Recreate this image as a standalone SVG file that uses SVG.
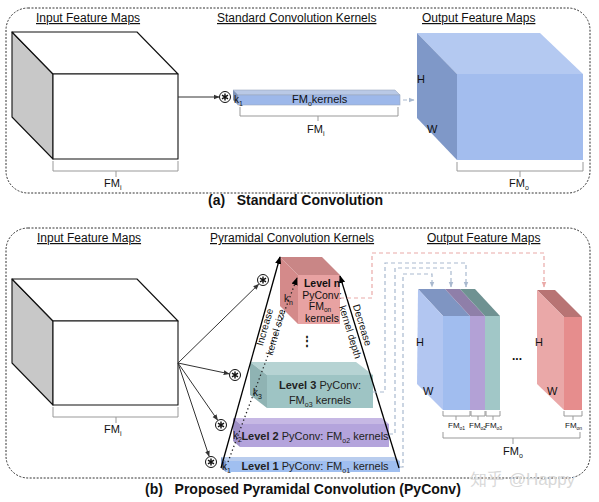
<svg xmlns="http://www.w3.org/2000/svg" width="599" height="502" viewBox="0 0 599 502">
<style>
text{font-family:"Liberation Sans",Arial,sans-serif;fill:#111}
.lbl{font-size:12px;text-decoration:underline}
.ttl{font-size:14px;font-weight:bold}
.lv{font-size:11px;fill:#222}
.sub{font-size:7px}
.edge{stroke:#111;stroke-width:1.1;stroke-linejoin:round}
.br{fill:none;stroke:#999;stroke-width:1}
.panel{fill:none;stroke:#333;stroke-width:1;stroke-dasharray:2 1.5}
.ar{stroke:#333;stroke-width:1;fill:none}
.tri{stroke:#000;stroke-width:1.3;fill:none}
.dl{fill:none;stroke:#a9b9cf;stroke-width:1.2;stroke-dasharray:4 3}
.dp{fill:none;stroke:#eaaaa8;stroke-width:1.2;stroke-dasharray:4 3}
</style>
<defs>
<marker id="ah" viewBox="0 0 10 10" refX="9" refY="5" markerWidth="6" markerHeight="6" orient="auto"><path d="M0,1 L10,5 L0,9 z" fill="#333"/></marker>
<marker id="ab" viewBox="0 0 10 10" refX="9" refY="5" markerWidth="6" markerHeight="6" orient="auto"><path d="M0,1 L10,5 L0,9 z" fill="#000"/></marker>
<marker id="al" viewBox="0 0 10 10" refX="9" refY="5" markerWidth="5" markerHeight="5" orient="auto"><path d="M0,1 L10,5 L0,9 z" fill="#a9b9cf"/></marker>
<marker id="ap" viewBox="0 0 10 10" refX="9" refY="5" markerWidth="5" markerHeight="5" orient="auto"><path d="M0,1 L10,5 L0,9 z" fill="#eaaaa8"/></marker>
<g id="conv">
<circle r="5.5" fill="#fff" stroke="#111" stroke-width="1"/>
<path d="M0,-3.5V3.5M-3,-1.8L3,1.8M-3,1.8L3,-1.8" stroke="#111" stroke-width="1.4"/>
</g>
</defs>

<!-- Panel (a) -->
<rect class="panel" x="6" y="8" width="584" height="185" rx="22"/>
<text class="lbl" x="36" y="22">Input Feature Maps</text>
<text class="lbl" x="217" y="22">Standard Convolution Kernels</text>
<text class="lbl" x="422" y="22">Output Feature Maps</text>
<text class="ttl" x="208" y="205" xml:space="preserve">(a)   Standard Convolution</text>

<g id="a-input">
<polygon points="12,32 53,74 53,159 12,117" fill="#c8c8c8" class="edge"/>
<polygon points="12,32 137,32 178,74 53,74" fill="#fff" class="edge"/>
<rect x="53" y="74" width="125" height="85" fill="#fff" class="edge"/>
<path class="br" d="M53,161V171H178V161M116,171V177"/>
<text x="104" y="187" font-size="11">FM<tspan class="sub" dy="3">i</tspan></text>
</g>

<g id="a-kernel">
<polygon points="233,90 395,90 400,95 238,95" fill="#b9c9e6" stroke="#9aa8c0" stroke-width="0.6"/>
<polygon points="233,90 238,95 238,105 233,100" fill="#7e93b8"/>
<rect x="238" y="95" width="162" height="10" fill="#9db8ea" stroke="#9aa8c0" stroke-width="0.6"/>
<text x="234" y="103" font-size="10">k<tspan class="sub" dy="3">1</tspan></text>
<text x="292" y="103" font-size="11">FM<tspan class="sub" dy="3">o</tspan><tspan dy="-3">kernels</tspan></text>
<path class="br" d="M240,107V116H398V107M318,116V121"/>
<text x="307" y="133" font-size="11">FM<tspan class="sub" dy="3">i</tspan></text>
</g>

<g id="a-output">
<polygon points="417,33 540,33 583,74 457,74" fill="#b4c9f1"/>
<polygon points="417,33 457,74 457,160 417,118" fill="#7f98c8"/>
<rect x="457" y="74" width="126" height="86" fill="#a3bdee"/>
<text x="417" y="83" font-size="11">H</text>
<text x="427" y="133" font-size="11">W</text>
<path class="br" d="M457,162V171H583V162M520,171V177"/>
<text x="509" y="187" font-size="11">FM<tspan class="sub" dy="3">o</tspan></text>
</g>

<g id="a-connectors">
<line class="ar" x1="178" y1="97" x2="219" y2="97" marker-end="url(#ah)"/>
<use href="#conv" x="225" y="97"/>
<line class="dl" x1="403" y1="100" x2="414" y2="100" marker-end="url(#al)" stroke-dasharray="3 2"/>
</g>

<!-- Panel (b) -->
<rect class="panel" x="6" y="228" width="584" height="250" rx="22"/>
<text class="lbl" x="37" y="242">Input Feature Maps</text>
<text class="lbl" x="210" y="242">Pyramidal Convolution Kernels</text>
<text class="lbl" x="427" y="242">Output Feature Maps</text>
<text class="ttl" x="145" y="494" xml:space="preserve">(b)   Proposed Pyramidal Convolution (PyConv)</text>

<g id="b-input">
<polygon points="12,279 53,321 53,405 12,363" fill="#c8c8c8" class="edge"/>
<polygon points="12,279 137,279 178,321 53,321" fill="#fff" class="edge"/>
<rect x="53" y="321" width="125" height="84" fill="#fff" class="edge"/>
<path class="br" d="M53,407V417H178V407M116,417V423"/>
<text x="104" y="433" font-size="11">FM<tspan class="sub" dy="3">i</tspan></text>
</g>

<g id="level-n">
<polygon points="280,257 322,257 340,275 298,275" fill="#c98686"/>
<polygon points="280,257 298,275 298,324 280,306" fill="#d48a8a"/>
<rect x="298" y="275" width="42" height="49" fill="#e8a2a2"/>
<text x="284" y="302" font-size="10">k<tspan class="sub" dy="3">n</tspan></text>
<text x="322" y="287" font-size="10.5" text-anchor="middle" font-weight="bold" fill="#222">Level n</text>
<text x="322" y="299" font-size="10.5" text-anchor="middle" fill="#222">PyConv:</text>
<text x="320" y="310" font-size="10.5" text-anchor="middle" fill="#222">FM<tspan font-size="6.5" dy="2">on</tspan></text>
<text x="322" y="322" font-size="10.5" text-anchor="middle" fill="#222">kernels</text>
</g>

<text x="307" y="345" font-size="12" font-weight="bold" text-anchor="middle">⋮</text>

<g id="level-3">
<polygon points="250,362 356,362 373,375 267,375" fill="#b6d3d3"/>
<polygon points="250,362 267,375 267,408 250,395" fill="#8fb3b3"/>
<rect x="267" y="375" width="106" height="33" fill="#9ec4c4"/>
<text x="253" y="396" font-size="10">k<tspan class="sub" dy="3">3</tspan></text>
<text class="lv" x="320" y="389" text-anchor="middle"><tspan font-weight="bold">Level 3</tspan> PyConv:</text>
<text class="lv" x="320" y="404" text-anchor="middle">FM<tspan class="sub" dy="3">o3</tspan><tspan dy="-3"> kernels</tspan></text>
</g>

<g id="level-2">
<polygon points="233,418 382,418 389,424 240,424" fill="#c6b8e4"/>
<polygon points="233,418 240,424 240,447 233,441" fill="#9f90c7"/>
<rect x="240" y="424" width="149" height="23" fill="#b4a4dc"/>
<text x="233" y="439" font-size="10">k<tspan class="sub" dy="3">2</tspan></text>
<text class="lv" x="315" y="440" text-anchor="middle"><tspan font-weight="bold">Level 2</tspan> PyConv: FM<tspan class="sub" dy="3">o2</tspan><tspan dy="-3"> kernels</tspan></text>
</g>

<g id="level-1">
<polygon points="221,457 395,457 400,461 226,461" fill="#b9cdee"/>
<polygon points="221,457 226,461 226,472 221,468" fill="#809ac6"/>
<rect x="226" y="461" width="174" height="11" fill="#a0bff0"/>
<text x="222" y="470" font-size="10">k<tspan class="sub" dy="3">1</tspan></text>
<text class="lv" x="315" y="470" text-anchor="middle"><tspan font-weight="bold">Level 1</tspan> PyConv: FM<tspan class="sub" dy="3">o1</tspan><tspan dy="-3"> kernels</tspan></text>
</g>

<g id="b-output">
<polygon points="418,289 445,289 470,316 443,316" fill="#7f95c2"/>
<polygon points="418,289 443,316 443,410 417,384" fill="#b2c6f1"/>
<rect x="443" y="316" width="27" height="94" fill="#a1bdef"/>
<polygon points="445,289 460,289 485,316 470,316" fill="#8f7fa9"/>
<rect x="470" y="316" width="15" height="94" fill="#b3a1d6"/>
<polygon points="460,289 475,289 500,316 485,316" fill="#6f9292"/>
<rect x="485" y="316" width="15" height="94" fill="#a1c7c7"/>
<text x="416" y="346" font-size="11">H</text>
<text x="423" y="395" font-size="11">W</text>
<text x="517" y="360" font-size="12" font-weight="bold" text-anchor="middle">...</text>
<polygon points="537,290 555,290 582,317 564,317" fill="#b87474"/>
<polygon points="537,290 564,317 564,410 537,384" fill="#eaa8a8"/>
<rect x="564" y="317" width="18" height="93" fill="#e68d8d"/>
<text x="535" y="346" font-size="11">H</text>
<text x="547" y="395" font-size="11">W</text>
<path class="br" d="M443,411V416H470V411M456,416V420M471,411V416H485V411M478,416V420M486,411V416H500V411M493,416V420M564,411V416H582V411M573,416V420"/>
<text x="448" y="428" font-size="8">FM<tspan font-size="5" dy="2">o1</tspan></text>
<text x="469" y="428" font-size="8">FM<tspan font-size="5" dy="2">o2</tspan></text>
<text x="485" y="428" font-size="8">FM<tspan font-size="5" dy="2">o3</tspan></text>
<text x="565" y="428" font-size="8">FM<tspan font-size="5" dy="2">on</tspan></text>
<path class="br" d="M443,432V438H580V432M513,438V444"/>
<text x="503" y="455" font-size="11">FM<tspan class="sub" dy="3">o</tspan></text>
</g>

<g id="b-connectors">
<line class="ar" x1="178" y1="363" x2="258.7" y2="284.2" marker-end="url(#ah)"/>
<line class="ar" x1="178" y1="363" x2="229.1" y2="373.8" marker-end="url(#ah)"/>
<line class="ar" x1="178" y1="363" x2="217.6" y2="420.1" marker-end="url(#ah)"/>
<line class="ar" x1="178" y1="363" x2="209.1" y2="456.3" marker-end="url(#ah)"/>
<use href="#conv" x="263" y="280"/>
<use href="#conv" x="235" y="375"/>
<use href="#conv" x="221" y="425"/>
<use href="#conv" x="211" y="462"/>
<line class="tri" x1="221" y1="468" x2="280" y2="257" marker-end="url(#ab)"/>
<line class="tri" x1="399" y1="468" x2="340" y2="276" marker-end="url(#ab)"/>
<line x1="228" y1="462" x2="297" y2="278" stroke="#222" stroke-width="1.3" stroke-dasharray="1.3 2.7" marker-end="url(#ab)"/>
<text transform="translate(268,328) rotate(-74)" font-size="10" text-anchor="middle">Increase</text>
<text transform="translate(279,333) rotate(-74)" font-size="10" text-anchor="middle">kernel size</text>
<text transform="translate(359,326) rotate(73)" font-size="10" text-anchor="middle">Decrease</text>
<text transform="translate(347,333) rotate(73)" font-size="10" text-anchor="middle">kernel depth</text>
<path class="dp" d="M340,298H372V253H544V287" marker-end="url(#ap)"/>
<path class="dl" d="M373,392H385V263H466V287" marker-end="url(#al)"/>
<path class="dl" d="M389,434H395V268H451V287" marker-end="url(#al)"/>
<path class="dl" d="M400,467H403V274H432V287" marker-end="url(#al)"/>
</g>

<text x="470" y="485" font-size="17" font-family="'Noto Sans CJK SC',sans-serif" style="fill:#d8d8d8">知乎 @Happy</text>
</svg>
